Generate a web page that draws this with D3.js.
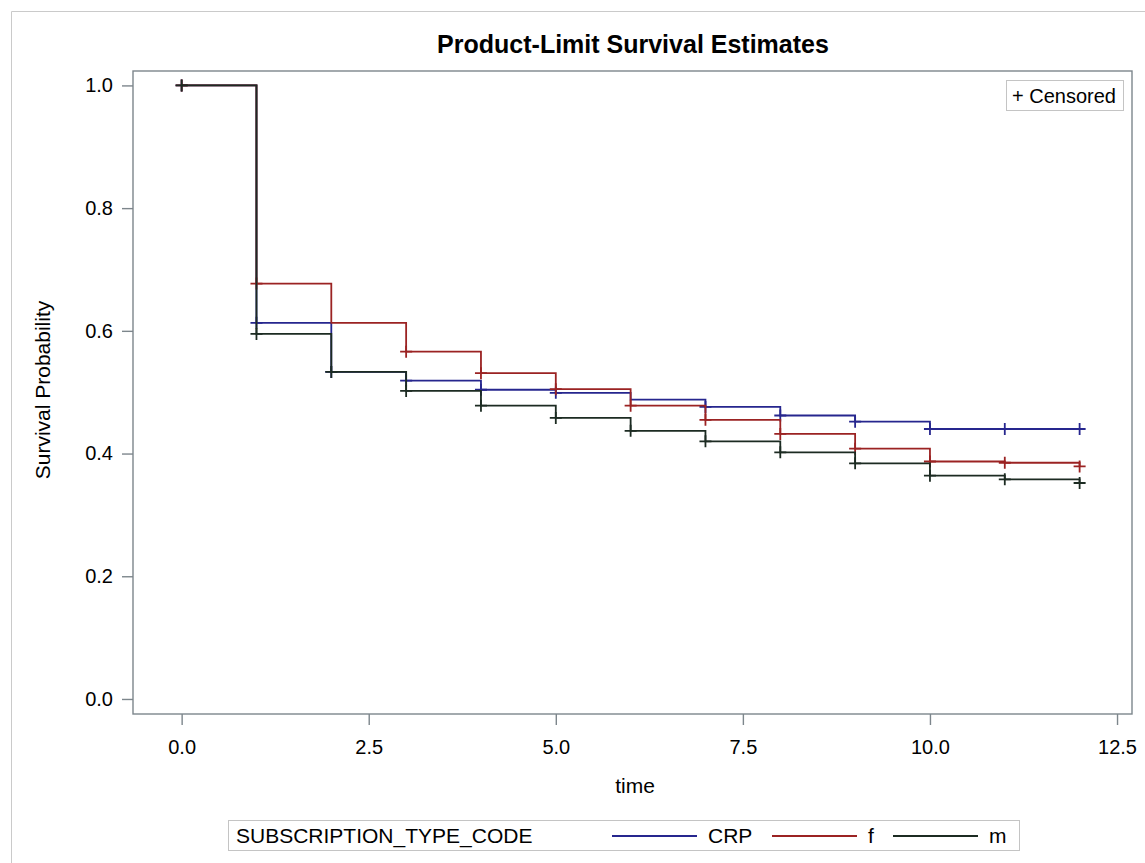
<!DOCTYPE html>
<html>
<head>
<meta charset="utf-8">
<script src="https://cdn.jsdelivr.net/npm/d3@7"></script>
<style>
  body { margin: 0; background: #fff; }
  svg { display: block; font-family: "Liberation Sans", Arial, sans-serif; }
</style>
</head>
<body>
<div id="chart"></div>
<script>
// time points and survival estimates
var times = [0, 1, 2, 3, 4, 5, 6, 7, 8, 9, 10, 11, 12];
var crpSurv = [1, 0.613, 0.533, 0.519, 0.504, 0.499, 0.488, 0.476, 0.462, 0.452, 0.440, 0.440, 0.440];
var fSurv   = [1, 0.677, 0.613, 0.566, 0.531, 0.505, 0.478, 0.455, 0.432, 0.408, 0.387, 0.385, 0.379];
var mSurv   = [1, 0.595, 0.533, 0.502, 0.478, 0.458, 0.437, 0.420, 0.402, 0.384, 0.364, 0.358, 0.352];
// times with a censor mark
var crpCens = [0, 1, 2, 3, 4, 5, 7, 8, 9, 10, 11, 12];
var fCens   = [0, 1, 3, 4, 5, 6, 7, 8, 9, 10, 11, 12];
var mCens   = [0, 1, 2, 3, 4, 5, 6, 7, 8, 9, 10, 11, 12];
var groups = ["CRP", "f", "m"];
var xTicks = [0, 2.5, 5, 7.5, 10, 12.5];
var yTicks = [0, 0.2, 0.4, 0.6, 0.8, 1.0];

(function() {

var width = 1145, height = 863;
var pLeft = 133, pRight = 1132, pTop = 71, pBottom = 714;

var color = d3.scaleOrdinal()
    .domain(groups)
    .range(["#26268e", "#9b2323", "#1c2b22"]);

var x = d3.scaleLinear().domain([-0.65, 12.7]).range([pLeft, pRight]);
var y = d3.scaleLinear().domain([-0.0245, 1.0235]).range([pBottom, pTop]);

var svg = d3.select("#chart").append("svg")
    .attr("width", width)
    .attr("height", height);

// outer border
svg.append("path")
    .attr("d", "M11.5," + height + "V11.5H" + width)
    .attr("fill", "none")
    .attr("stroke", "#cacaca");

svg.append("text")
    .attr("x", 633).attr("y", 53)
    .attr("text-anchor", "middle")
    .style("font-weight", "bold")
    .style("font-size", "25px")
    .text("Product-Limit Survival Estimates");

// axes
var xAxis = svg.append("g")
    .attr("transform", "translate(0," + pBottom + ")")
    .call(d3.axisBottom(x).tickValues(xTicks).tickSize(11).tickPadding(15)
        .tickFormat(d3.format(".1f")));
var yAxis = svg.append("g")
    .attr("transform", "translate(" + pLeft + ",0)")
    .call(d3.axisLeft(y).tickValues(yTicks).tickSize(11).tickPadding(9)
        .tickFormat(d3.format(".1f")));
[xAxis, yAxis].forEach(function(a) {
    a.select(".domain").remove();
    a.selectAll("line").attr("stroke", "#7d868c").attr("stroke-width", 1.4);
    a.selectAll("text").style("font-size", "20px").attr("fill", "#000")
        .style("font-family", "'Liberation Sans', Arial, sans-serif");
});

// plot frame
svg.append("rect")
    .attr("x", pLeft).attr("y", pTop)
    .attr("width", pRight - pLeft).attr("height", pBottom - pTop)
    .attr("fill", "none")
    .attr("stroke", "#7d868c")
    .attr("stroke-width", 1.4);

svg.append("text")
    .attr("x", 635).attr("y", 793)
    .attr("text-anchor", "middle")
    .style("font-size", "21px")
    .text("time");

svg.append("text")
    .attr("transform", "translate(50,390) rotate(-90)")
    .attr("text-anchor", "middle")
    .style("font-size", "21px")
    .text("Survival Probability");

// step curves
var series = [
    { name: "CRP", surv: crpSurv, cens: crpCens },
    { name: "f", surv: fSurv, cens: fCens },
    { name: "m", surv: mSurv, cens: mCens }
];

var line = d3.line()
    .x(function(d) { return x(d[0]); })
    .y(function(d) { return y(d[1]); })
    .curve(d3.curveStepAfter);

series.forEach(function(s) {
    var pts = times.map(function(t, i) { return [t, s.surv[i]]; });
    svg.append("path")
        .datum(pts)
        .attr("d", line)
        .attr("fill", "none")
        .attr("stroke", color(s.name))
        .attr("stroke-width", 1.8);

    svg.append("g").selectAll("path")
        .data(s.cens)
      .enter().append("path")
        .attr("d", function(t) {
            var cx = x(t), cy = y(s.surv[times.indexOf(t)]);
            return "M" + (cx - 6) + "," + cy + "H" + (cx + 6) +
                   "M" + cx + "," + (cy - 6) + "V" + (cy + 6);
        })
        .attr("stroke", color(s.name))
        .attr("stroke-width", 1.8);
});

// censored inset
var cens = svg.append("g");
var censText = cens.append("text")
    .attr("x", 1116).attr("y", 103)
    .attr("text-anchor", "end")
    .style("font-size", "20px")
    .text("+ Censored");
var bb = censText.node().getBBox();
cens.insert("rect", "text")
    .attr("x", Math.round(bb.x - 6) + 0.5).attr("y", 80.5)
    .attr("width", 1123 - Math.round(bb.x - 6)).attr("height", 30)
    .attr("fill", "#fff")
    .attr("stroke", "#c4c4c4");

// bottom legend
var leg = svg.append("g");
leg.append("rect")
    .attr("x", 228.5).attr("y", 820.5)
    .attr("width", 791).attr("height", 30)
    .attr("fill", "#fff")
    .attr("stroke", "#c4c4c4");
leg.append("text")
    .attr("x", 236).attr("y", 843)
    .style("font-size", "21px")
    .text("SUBSCRIPTION_TYPE_CODE");
var legX = [612, 772, 893];
groups.forEach(function(g, i) {
    leg.append("line")
        .attr("x1", legX[i]).attr("x2", legX[i] + 85)
        .attr("y1", 836).attr("y2", 836)
        .attr("stroke", color(g))
        .attr("stroke-width", 1.8);
    leg.append("text")
        .attr("x", legX[i] + 96).attr("y", 843)
        .style("font-size", "21px")
        .text(g);
});

})();
</script>
</body>
</html>
